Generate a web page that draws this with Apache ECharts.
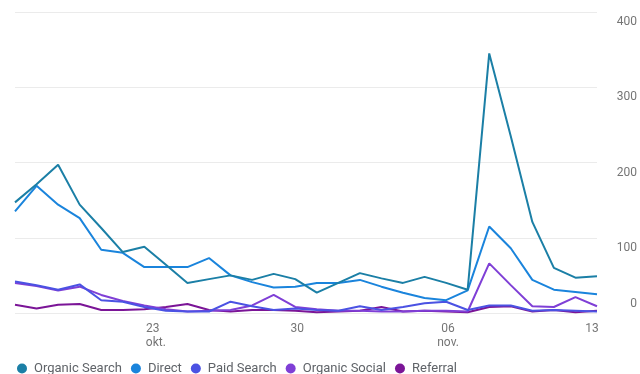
<!DOCTYPE html>
<html>
<head>
<meta charset="utf-8">
<script src="https://cdn.jsdelivr.net/npm/echarts@6/dist/echarts.min.js"></script>
<style>
  html, body { margin: 0; padding: 0; background: #ffffff; }
  #chart { width: 640px; height: 374px; }
</style>
</head>
<body>
<div id="chart"></div>
<script>
// Dates: 17 okt. .. 13 nov.
const days = ['17','18','19','20','21','22','23','24','25','26','27','28','29','30','31',
              '01','02','03','04','05','06','07','08','09','10','11','12','13'];
const months = ['okt.','okt.','okt.','okt.','okt.','okt.','okt.','okt.','okt.','okt.','okt.','okt.','okt.','okt.','okt.',
                'nov.','nov.','nov.','nov.','nov.','nov.','nov.','nov.','nov.','nov.','nov.','nov.','nov.'];
const tickLabels = { '23 okt.': '23\nokt.', '30 okt.': '30', '06 nov.': '06\nnov.', '13 nov.': '13' };

const seriesNames = ['Organic Search', 'Direct', 'Paid Search', 'Organic Social', 'Referral'];
const organicSearch = [147,171,197,144,113,81,88,64,40,45,50,44,52,45,27,40,53,46,40,48,40,31,345,235,121,60,47,49];
const direct        = [135,169,144,126,84,80,61,61,61,73,50,41,34,35,40,40,44,35,27,20,17,30,115,86,44,31,28,25];
const paidSearch    = [42,37,31,38,17,15,8,3,2,2,15,9,4,6,4,3,9,4,8,13,15,4,10,10,3,4,3,2];
const organicSocial = [40,36,30,35,24,16,10,5,2,3,4,10,24,8,5,3,3,2,2,3,3,2,66,37,9,8,21,9];
const referral      = [11,6,11,12,4,4,5,8,12,4,2,4,4,3,1,2,3,8,2,3,2,1,8,9,2,4,1,3];

const yTicks = [0, 100, 200, 300, 400];
const colors = ['#1b7fa6', '#1a84dc', '#4b52e3', '#7f3fd6', '#7b1597'];

const categories = days.map((d, i) => d + ' ' + months[i]);
const allData = [organicSearch, direct, paidSearch, organicSocial, referral];

const chart = echarts.init(document.getElementById('chart'), null, { renderer: 'canvas' });
chart.setOption({
  animation: false,
  backgroundColor: '#ffffff',
  color: colors,
  textStyle: { fontFamily: 'Roboto' },
  grid: { left: 15, right: 42, top: 12, bottom: 61, containLabel: false },
  legend: {
    left: 12, top: 357,
    icon: 'circle', itemWidth: 14, itemHeight: 10, itemGap: 9,
    textStyle: { color: '#5f6368', fontSize: 13, fontFamily: 'Roboto' },
    data: seriesNames
  },
  xAxis: {
    type: 'category',
    data: categories,
    boundaryGap: false,
    axisLine: { show: false },
    axisTick: { show: false },
    axisLabel: {
      color: '#757575', fontSize: 12, margin: 9, lineHeight: 14,
      interval: (idx, val) => tickLabels[val] !== undefined,
      formatter: (val) => {
        const t = tickLabels[val];
        if (!t) return '';
        if (val === '23 okt.') return '{a|23}\n{b|okt.}';
        if (val === '13 nov.') return '{c|13}';
        if (val === '06 nov.') return '{d|06}\n{d|nov.}';
        return '{d|' + t + '}';
      },
      rich: {
        a: { color: '#757575', fontSize: 12, lineHeight: 14, padding: [0, 0, 0, 17] },
        b: { color: '#757575', fontSize: 12, lineHeight: 14, padding: [0, 0, 0, 23] },
        c: { color: '#757575', fontSize: 12, lineHeight: 14, padding: [0, 10, 0, 0] },
        d: { color: '#757575', fontSize: 12, lineHeight: 14, padding: [0, 0, 0, 4] }
      }
    },
    splitLine: { show: false }
  },
  yAxis: {
    type: 'value',
    position: 'right',
    min: yTicks[0], max: yTicks[yTicks.length - 1], interval: 100,
    axisLine: { show: false },
    axisTick: { show: false },
    splitLine: { show: true, lineStyle: { color: '#ebebeb', width: 1 } },
    axisLabel: {
      align: 'right', margin: 40, color: '#757575', fontSize: 12,
      formatter: (v) => (v === 0 ? '{z|0}' : '{n|' + v + '}'),
      rich: {
        n: { color: '#757575', fontSize: 12, padding: [20, 0, 0, 0] },
        z: { color: '#757575', fontSize: 12, padding: [0, 0, 18, 0] }
      }
    }
  },
  series: seriesNames.map((name, k) => ({
    name: name,
    type: 'line',
    data: allData[k],
    showSymbol: false,
    symbol: 'circle',
    lineStyle: { width: 2, color: colors[k] },
    itemStyle: { color: colors[k] },
    z: 10 - k
  }))
});
</script>
</body>
</html>
